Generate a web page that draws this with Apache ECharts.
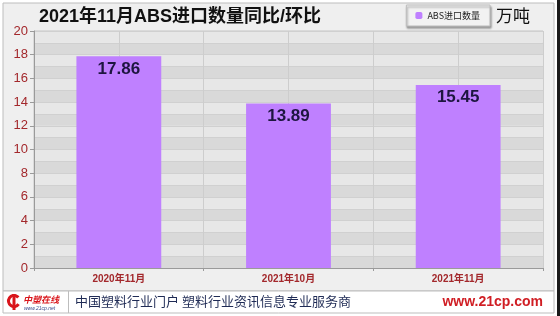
<!DOCTYPE html>
<html>
<head>
<meta charset="utf-8">
<script src="https://cdn.jsdelivr.net/npm/echarts@6/dist/echarts.min.js"></script>
<style>
  html, body { margin: 0; padding: 0; background: #ffffff; }
  #chart { width: 560px; height: 316px; }
</style>
</head>
<body>
<div id="chart"></div>
<script>
// ABS import volume, monthly comparison (unit: 10k tonnes)
const categories = ['2020年11月', '2021年10月', '2021年11月'];
const importVolume = [17.86, 13.89, 15.45];
const yTicks = [0, 2, 4, 6, 8, 10, 12, 14, 16, 18, 20];

const titleText = '2021年11月ABS进口数量同比/环比';
const seriesName = 'ABS进口数量';
const unitText = '万吨';
const footerSlogan = '中国塑料行业门户 塑料行业资讯信息专业服务商';
const footerSite = 'www.21cp.com';

const labelRed = '#a3282c';
const barColor = '#bf80ff';

const chart = echarts.init(document.getElementById('chart'), null, { renderer: 'canvas' });

chart.setOption({
  animation: false,
  backgroundColor: '#ffffff',
  title: {
    text: titleText,
    left: 34,
    top: 3,
    textStyle: { fontFamily: 'Liberation Sans, Noto Sans CJK SC', fontSize: 18, fontWeight: 'bold', color: '#111111' }
  },
  legend: {
    data: [seriesName],
    right: 70,
    top: 5,
    height: 23,
    padding: [6, 10, 6, 9],
    itemWidth: 7,
    itemHeight: 7,
    itemGap: 4,
    backgroundColor: '#f2f2f2',
    borderColor: '#bdbdbd',
    borderWidth: 1,
    shadowColor: 'rgba(0,0,0,0.35)',
    shadowBlur: 2,
    shadowOffsetX: 1,
    shadowOffsetY: 2,
    textStyle: { fontSize: 9, color: '#222222', fontFamily: 'Noto Sans CJK SC' }
  },
  grid: { left: 34, right: 17, top: 31, bottom: 48, show: true, borderColor: '#c4c4c4', borderWidth: 1, backgroundColor: 'transparent' },
  xAxis: [
    {
      type: 'category',
      data: categories,
      axisLine: { lineStyle: { color: '#9a9a9a' } },
      axisTick: { show: true, length: 3, lineStyle: { color: '#9a9a9a' } },
      axisLabel: { color: labelRed, fontSize: 10, fontWeight: 'bold', margin: 6, fontFamily: 'Liberation Sans, Noto Sans CJK SC' },
      splitLine: { show: false }
    },
    {
      // half-category vertical grid
      type: 'value',
      min: 0, max: 6, interval: 1,
      position: 'bottom',
      show: true,
      axisLine: { show: false },
      axisTick: { show: false },
      axisLabel: { show: false },
      splitLine: { show: true, lineStyle: { color: '#cdcdcd', width: 1 } }
    }
  ],
  yAxis: [
    {
      type: 'value',
      min: 0, max: 20, interval: 2,
      axisLine: { show: true, lineStyle: { color: '#9a9a9a' } },
      axisTick: { show: true, length: 4, lineStyle: { color: '#9a9a9a' } },
      axisLabel: {
        color: labelRed, fontSize: 13, margin: 6, fontFamily: 'Liberation Sans',
        formatter: v => (yTicks.indexOf(v) >= 0 ? String(v) : '')
      },
      splitLine: { show: false },
      z: 3
    },
    {
      // banded background, one band per unit
      type: 'value',
      min: 0, max: 20, interval: 1,
      position: 'left',
      axisLine: { show: false },
      axisTick: { show: false },
      axisLabel: { show: false },
      splitLine: { show: true, lineStyle: { color: '#d0d0d0', width: 1 } },
      splitArea: { show: true, areaStyle: { color: ['#d9d9d9', '#e7e7e7'] } }
    }
  ],
  series: [
    {
      name: seriesName,
      type: 'bar',
      xAxisIndex: 0,
      yAxisIndex: 0,
      data: importVolume,
      barWidth: '50%',
      itemStyle: { color: barColor },
      label: {
        show: true,
        position: 'insideTop',
        distance: 4,
        fontSize: 17,
        fontWeight: 'bold',
        color: '#1d1540',
        fontFamily: 'Liberation Sans',
        formatter: p => p.value.toFixed(2)
      },
      z: 4
    }
  ],
  graphic: [
    // outer chart panel
    { type: 'rect', z: -10, silent: true, shape: { x: 3, y: 3, width: 551, height: 288 }, style: { fill: '#efefef', stroke: '#bdbdbd', lineWidth: 1 } },
    { type: 'rect', z: -10, silent: true, shape: { x: 557, y: 0, width: 3, height: 316 }, style: { fill: '#1a1a1a' } },
    // unit
    { type: 'text', z: 10, left: 496, top: 7, style: { text: unitText, fontSize: 17, fill: '#111111', fontFamily: 'Noto Sans CJK SC' } },
    // footer strip
    { type: 'rect', z: -5, silent: true, shape: { x: 3, y: 291, width: 551, height: 22 }, style: { fill: '#ffffff', stroke: '#bdbdbd', lineWidth: 1 } },
    { type: 'line', z: 10, silent: true, shape: { x1: 68.5, y1: 291, x2: 68.5, y2: 313 }, style: { stroke: '#bdbdbd', lineWidth: 1 } },
    // logo mark
    { type: 'arc', z: 10, silent: true, shape: { cx: 14, cy: 301, r: 5.5, startAngle: 0.6, endAngle: 5.6 }, style: { stroke: '#d9151b', lineWidth: 3, fill: null } },
    { type: 'rect', z: 10, silent: true, shape: { x: 12.5, y: 294, width: 3, height: 16 }, style: { fill: '#d9151b' } },
    { type: 'text', z: 10, left: 23, top: 295, style: { text: '中塑在线', fontSize: 9, fontWeight: 'bold', fontStyle: 'italic', fill: '#d9151b', fontFamily: 'Noto Sans CJK SC' } },
    { type: 'text', z: 10, left: 24, top: 306, style: { text: 'www.21cp.net', fontSize: 5, fontStyle: 'italic', fill: '#3a4a8a', fontFamily: 'Liberation Sans' } },
    // footer texts
    { type: 'text', z: 10, left: 75, top: 295, style: { text: footerSlogan, fontSize: 13, fill: '#1f2b55', fontFamily: 'Noto Sans CJK SC' } },
    { type: 'text', z: 10, right: 17, top: 295, style: { text: footerSite, fontSize: 14, fontWeight: 'bold', fill: '#d01e24', fontFamily: 'Liberation Sans' } }
  ]
});
</script>
</body>
</html>
